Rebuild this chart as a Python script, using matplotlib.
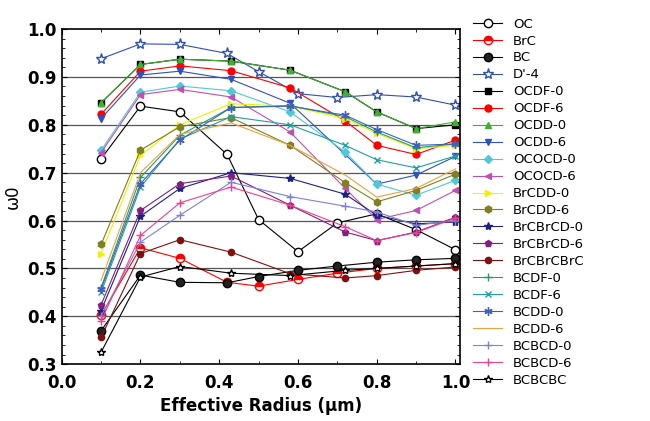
import matplotlib
matplotlib.use("Agg")
import matplotlib.pyplot as plt
from matplotlib.ticker import MultipleLocator

xa = [0.1, 0.2, 0.3, 0.42, 0.5, 0.6, 0.7, 0.8, 0.9, 1.0]
xb = [0.1, 0.2, 0.3, 0.43, 0.58, 0.72, 0.8, 0.9, 1.0]

OC = [0.729, 0.839, 0.827, 0.738, 0.602, 0.535, 0.595, 0.614, 0.581, 0.539]
BrC = [0.402, 0.543, 0.521, 0.471, 0.463, 0.477, 0.490, 0.500, 0.505, 0.510]
BC = [0.370, 0.486, 0.471, 0.470, 0.483, 0.496, 0.505, 0.513, 0.518, 0.521]
D4 = [0.938, 0.969, 0.968, 0.949, 0.911, 0.865, 0.857, 0.863, 0.858, 0.841]
OCDF0 = [0.846, 0.926, 0.937, 0.933, 0.914, 0.869, 0.827, 0.792, 0.800]
OCDF6 = [0.822, 0.912, 0.923, 0.913, 0.877, 0.808, 0.757, 0.738, 0.768]
OCDD0 = [0.846, 0.926, 0.937, 0.933, 0.914, 0.869, 0.827, 0.792, 0.806]
OCDD6 = [0.813, 0.904, 0.912, 0.895, 0.845, 0.738, 0.676, 0.695, 0.734]
OCOCD0 = [0.747, 0.868, 0.881, 0.871, 0.827, 0.743, 0.676, 0.653, 0.684]
OCOCD6 = [0.742, 0.863, 0.874, 0.858, 0.785, 0.667, 0.602, 0.621, 0.663]
BrCDD0 = [0.531, 0.736, 0.800, 0.844, 0.839, 0.813, 0.782, 0.750, 0.757]
BrCDD6 = [0.550, 0.747, 0.796, 0.815, 0.757, 0.679, 0.639, 0.663, 0.697]
BrCBrCD0 = [0.412, 0.609, 0.667, 0.700, 0.688, 0.655, 0.611, 0.593, 0.597]
BrCBrCD6 = [0.424, 0.621, 0.677, 0.693, 0.632, 0.576, 0.558, 0.576, 0.607]
BrCBrCBrC = [0.356, 0.531, 0.560, 0.534, 0.489, 0.480, 0.485, 0.496, 0.503]
BCDF0 = [0.460, 0.690, 0.778, 0.836, 0.840, 0.817, 0.785, 0.752, 0.760]
BCDF6 = [0.450, 0.670, 0.770, 0.817, 0.800, 0.757, 0.727, 0.710, 0.735]
BCDD0 = [0.457, 0.677, 0.768, 0.836, 0.839, 0.820, 0.790, 0.757, 0.760]
BCDD6 = [0.475, 0.700, 0.780, 0.804, 0.757, 0.695, 0.649, 0.667, 0.708]
BCBCD0 = [0.400, 0.555, 0.611, 0.680, 0.650, 0.630, 0.618, 0.590, 0.600]
BCBCD6 = [0.390, 0.569, 0.637, 0.670, 0.632, 0.587, 0.558, 0.575, 0.605]
BCBCBC = [0.325, 0.482, 0.504, 0.490, 0.485, 0.496, 0.500, 0.505, 0.510]

fig = plt.figure(figsize=(6.5, 4.21), dpi=100)
ax = fig.add_axes([0.095, 0.135, 0.613, 0.796])

series = [
    ("OC", xa, OC, dict(color="black", marker="o", mfc="white", ms=6)),
    ("BrC", xa, BrC, dict(color="red", marker="o", mfc="red", ms=6, fillstyle="top", markerfacecoloralt="white")),
    ("BC", xa, BC, dict(color="black", marker="o", mfc="#222222", ms=6)),
    ("D'-4", xa, D4, dict(color="#3050b0", marker="*", mfc="white", ms=8)),
    ("OCDF-0", xb, OCDF0, dict(color="black", marker="s", ms=4)),
    ("OCDF-6", xb, OCDF6, dict(color="red", marker="o", ms=5)),
    ("OCDD-0", xb, OCDD0, dict(color="#40b030", marker="^", ms=5)),
    ("OCDD-6", xb, OCDD6, dict(color="#3050c0", marker="v", ms=5)),
    ("OCOCD-0", xb, OCOCD0, dict(color="#50c8d8", marker="D", ms=4)),
    ("OCOCD-6", xb, OCOCD6, dict(color="#c050b0", marker="<", ms=5)),
    ("BrCDD-0", xb, BrCDD0, dict(color="#f0f000", marker=">", ms=5)),
    ("BrCDD-6", xb, BrCDD6, dict(color="#808020", marker="h", ms=5)),
    ("BrCBrCD-0", xb, BrCBrCD0, dict(color="#202080", marker="*", ms=6)),
    ("BrCBrCD-6", xb, BrCBrCD6, dict(color="#802080", marker="p", ms=5)),
    ("BrCBrCBrC", xb, BrCBrCBrC, dict(color="#801010", marker="o", ms=4.5)),
    ("BCDF-0", xb, BCDF0, dict(color="#20a060", marker="+", ms=6)),
    ("BCDF-6", xb, BCDF6, dict(color="#20a0a0", marker="x", ms=5)),
    ("BCDD-0", xb, BCDD0, dict(color="#4060c0", marker=(6, 2, 0), ms=6)),
    ("BCDD-6", xb, BCDD6, dict(color="#f0a040", marker=None)),
    ("BCBCD-0", xb, BCBCD0, dict(color="#8080d0", marker="+", ms=6)),
    ("BCBCD-6", xb, BCBCD6, dict(color="#f04090", marker="+", ms=6)),
    ("BCBCBC", xb, BCBCBC, dict(color="black", marker="*", mfc="white", ms=6)),
]
for name, x, y, st in series:
    ax.plot(x, y, lw=0.8, label=name, **st)

ax.set_xlim(0, 1.012)
ax.set_ylim(0.3, 1.0)
for g in [0.4, 0.5, 0.6, 0.7, 0.8, 0.9]:
    ax.axhline(g, color="#555555", lw=0.9, zorder=0)
ax.xaxis.set_major_locator(MultipleLocator(0.2))
ax.xaxis.set_minor_locator(MultipleLocator(0.1))
ax.yaxis.set_major_locator(MultipleLocator(0.1))
ax.yaxis.set_minor_locator(MultipleLocator(0.02))
ax.tick_params(direction="in", which="both", top=True, right=True, labelsize=12)
ax.tick_params(axis="x", pad=7)
for lab in ax.get_xticklabels() + ax.get_yticklabels():
    lab.set_fontweight("bold")
ax.set_xlabel("Effective Radius (\u03bcm)", fontsize=12, fontweight="bold", labelpad=4)
ax.set_ylabel("\u03c90", fontsize=12)
for s in ax.spines.values():
    s.set_linewidth(1.2)

ax.legend(loc="upper left", bbox_to_anchor=(1.02, 1.05), frameon=False,
          fontsize=9.5, handlelength=2.2, labelspacing=0.3, borderaxespad=0)
fig.savefig("out.png", dpi=100)
